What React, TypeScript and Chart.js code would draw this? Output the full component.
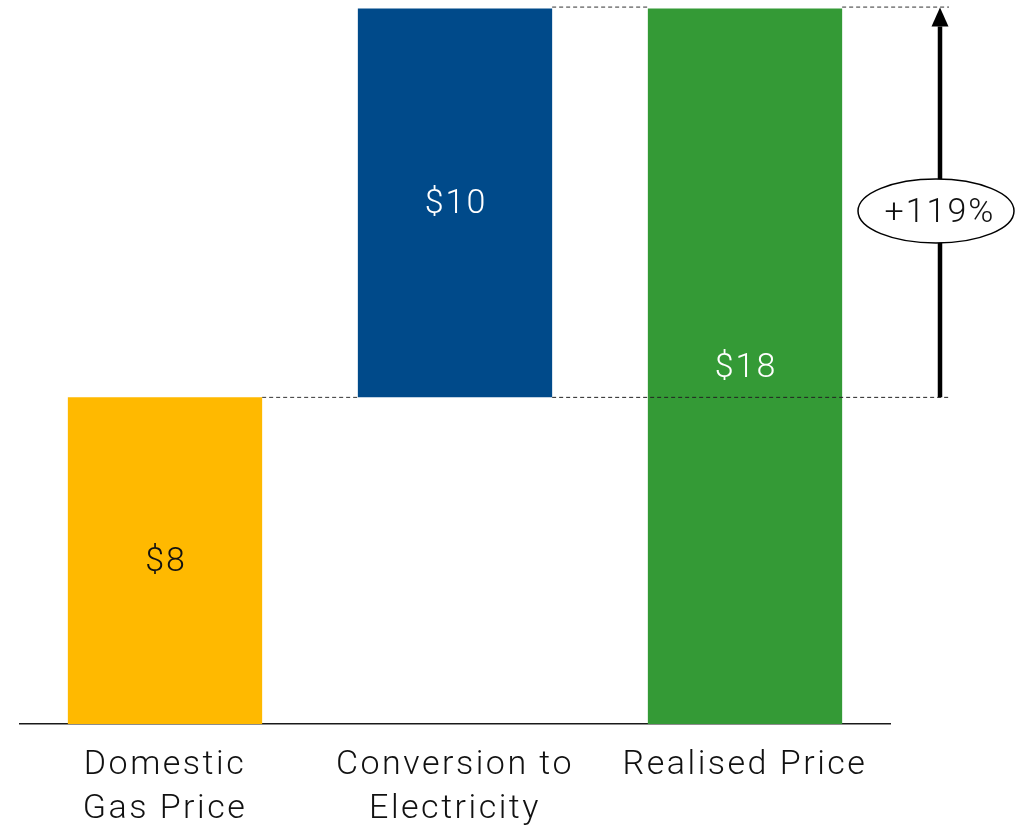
import React, { useEffect, useRef } from "react";
import { Chart, registerables } from "chart.js";

Chart.register(...registerables);

const categories: string[][] = [["Domestic", "Gas Price"], ["Conversion to", "Electricity"], ["Realised Price"]];
const barStarts: number[] = [0, 8.2, 0];
const barEnds: number[] = [8.2, 17.96, 17.96];
const valueLabels: string[] = ["$8", "$10", "$18"];
const changeLabel = "+119%";
const yMin = 0;
const yMax = 18;

const barColors = ["#FFB900", "#004A8A", "#349A36"];
const valueLabelColors = ["#111111", "#FFFFFF", "#FFFFFF"];
const FONT = "Roboto, 'Liberation Sans', sans-serif";

const overlayPlugin = {
  id: "overlay",
  beforeDraw(chart: any) {
    (chart.ctx as any).letterSpacing = "2.5px";
  },
  beforeDatasetsDraw(chart: any) {
    const ctx = chart.ctx;
    const meta = chart.getDatasetMeta(0);
    const y = chart.scales.y;
    const bars = meta.data;
    const yLow = y.getPixelForValue(barEnds[0]);
    const yHigh = y.getPixelForValue(barEnds[1]);
    const arrowX = 940;
    ctx.save();
    ctx.strokeStyle = "#333333";
    ctx.lineWidth = 1;
    ctx.setLineDash([4, 3]);
    const r0 = bars[0].x + bars[0].width / 2;
    const l1 = bars[1].x - bars[1].width / 2;
    const r1 = bars[1].x + bars[1].width / 2;
    const l2 = bars[2].x - bars[2].width / 2;
    const r2 = bars[2].x + bars[2].width / 2;
    ctx.beginPath();
    ctx.moveTo(r0, yLow);
    ctx.lineTo(l1, yLow);
    ctx.moveTo(r1, yHigh - 1.5);
    ctx.lineTo(l2, yHigh - 1.5);
    ctx.moveTo(r2, yHigh - 1.5);
    ctx.lineTo(arrowX + 9, yHigh - 1.5);
    ctx.stroke();
    ctx.restore();
  },
  afterDatasetsDraw(chart: any) {
    const ctx = chart.ctx;
    const meta = chart.getDatasetMeta(0);
    const y = chart.scales.y;
    const bars = meta.data;
    const yLow = y.getPixelForValue(barEnds[0]);
    const yHigh = y.getPixelForValue(barEnds[1]);
    const arrowX = 940;
    ctx.save();
    (ctx as any).letterSpacing = "2px";
    // dashed line across the green bar and to the arrow
    ctx.strokeStyle = "#222222";
    ctx.lineWidth = 1;
    ctx.setLineDash([4, 3]);
    ctx.beginPath();
    ctx.moveTo(bars[1].x + bars[1].width / 2, yLow);
    ctx.lineTo(arrowX + 9, yLow);
    ctx.stroke();
    ctx.setLineDash([]);
    // value labels
    ctx.font = `300 34px ${FONT}`;
    ctx.textAlign = "center";
    ctx.textBaseline = "middle";
    bars.forEach((b: any, i: number) => {
      const cy = (y.getPixelForValue(barStarts[i]) + y.getPixelForValue(barEnds[i])) / 2;
      ctx.fillStyle = valueLabelColors[i];
      ctx.fillText(valueLabels[i], b.x + 1, cy + 2);
    });
    // arrow
    ctx.strokeStyle = "#000000";
    ctx.fillStyle = "#000000";
    ctx.lineWidth = 4.5;
    ctx.beginPath();
    ctx.moveTo(arrowX, yLow);
    ctx.lineTo(arrowX, yHigh + 18);
    ctx.stroke();
    ctx.beginPath();
    ctx.moveTo(arrowX, yHigh - 1);
    ctx.lineTo(arrowX - 8.5, yHigh + 18);
    ctx.lineTo(arrowX + 8.5, yHigh + 18);
    ctx.closePath();
    ctx.fill();
    // ellipse with change label
    const ex = 936;
    const ey = (yLow + yHigh) / 2 + 8;
    ctx.beginPath();
    ctx.ellipse(ex, ey, 78, 32, 0, 0, Math.PI * 2);
    ctx.fillStyle = "#FFFFFF";
    ctx.fill();
    ctx.lineWidth = 1.5;
    ctx.strokeStyle = "#000000";
    ctx.stroke();
    ctx.fillStyle = "#111111";
    ctx.font = `300 34px ${FONT}`;
    ctx.fillText(changeLabel, ex + 4, ey + 3);
    ctx.restore();
  },
};

export default function App() {
  const canvasRef = useRef<HTMLCanvasElement | null>(null);

  useEffect(() => {
    if (!canvasRef.current) return;
    const chart = new Chart(canvasRef.current, {
      type: "bar",
      data: {
        labels: categories as any,
        datasets: [
          {
            data: barStarts.map((s, i) => [s, barEnds[i]]) as any,
            backgroundColor: barColors,
            borderWidth: 0,
            barPercentage: 0.67,
            categoryPercentage: 1,
          },
        ],
      },
      options: {
        animation: false,
        responsive: true,
        maintainAspectRatio: false,
        layout: { padding: { left: 20, right: 125, top: 7, bottom: 0 } },
        plugins: {
          legend: { display: false },
          tooltip: { enabled: false },
          title: { display: false },
        },
        scales: {
          x: {
            grid: { display: false },
            border: { display: true, color: "#1a1a1a", width: 1.5 },
            ticks: {
              color: "#111111",
              padding: 11,
              maxRotation: 0,
              autoSkip: false,
              font: { family: FONT, size: 34, weight: "300" as any, lineHeight: 1.31 },
            },
            afterFit: (scale: any) => {
              scale.height = 102;
            },
          },
          y: {
            display: false,
            min: yMin,
            max: yMax,
          },
        },
      },
      plugins: [overlayPlugin],
    });
    return () => chart.destroy();
  }, []);

  return (
    <div style={{ position: "absolute", left: 0, top: 0, width: 1015, height: 826 }}>
      <canvas ref={canvasRef} />
    </div>
  );
}
